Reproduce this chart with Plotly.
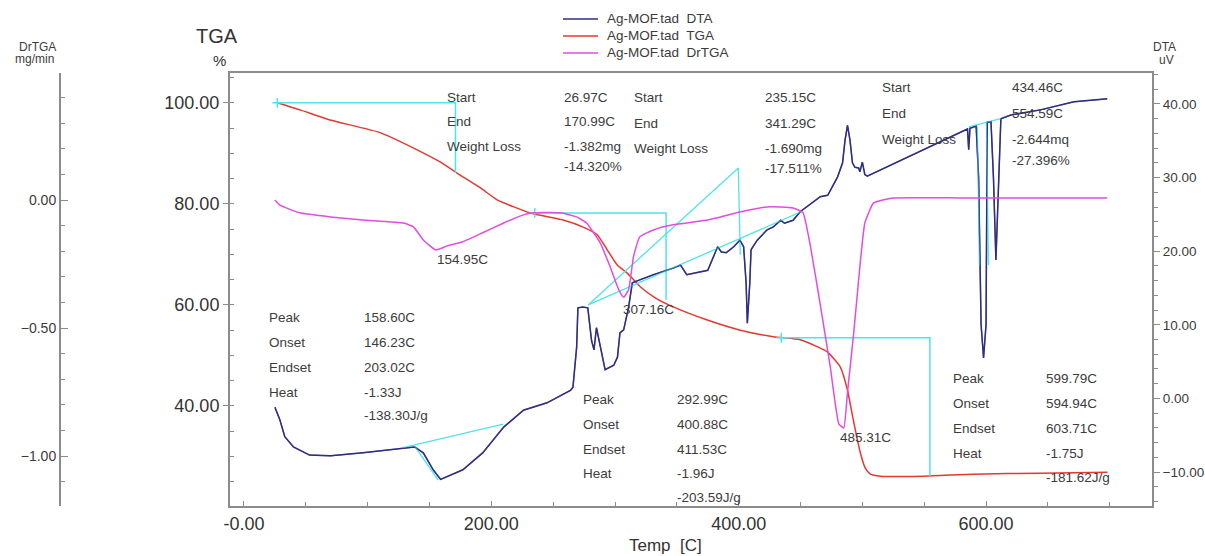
import plotly.graph_objects as go

# ---------------- data ----------------
dta_temp = [25, 29, 33, 40, 53, 70, 96, 129, 138, 145, 153, 159, 177, 193, 210, 226, 245, 264, 266,
            269, 270, 274, 278, 281, 283, 285, 288, 292, 299, 302, 304, 307, 311, 314, 320, 331, 347,
            353, 358, 363, 375, 383, 386, 390, 396, 401, 404, 406, 407, 409, 410, 415, 423, 428, 434,
            437, 444, 450, 466, 472, 480, 484, 486, 488, 490, 492, 494, 497, 498, 500, 502, 504, 540,
            579, 585, 586, 587, 592, 594, 596, 598, 600, 601, 604, 606, 608, 610, 612, 620, 644, 671, 698]
dta_uv = [-1.2, -2.9, -5.2, -6.6, -7.7, -7.8, -7.4, -6.7, -6.6, -7.4, -9.7, -11.0, -9.7, -7.4, -3.9,
          -1.6, -0.6, 1.1, 1.5, 7.0, 12.3, 12.4, 12.3, 7.9, 6.6, 9.6, 7.0, 3.9, 4.5, 5.6, 8.9, 9.3,
          12.4, 15.7, 16.1, 16.8, 17.7, 18.1, 16.8, 17.0, 17.4, 20.6, 19.9, 19.8, 20.6, 21.5, 20.6,
          15.7, 10.2, 15.7, 20.2, 21.5, 22.9, 23.3, 24.2, 23.8, 24.2, 25.4, 27.4, 27.6, 30.1, 32.0,
          35.1, 37.1, 35.1, 32.0, 31.4, 31.3, 30.8, 32.1, 30.4, 30.2, 33.0, 36.1, 36.6, 33.8, 36.7,
          37.0, 30.0, 10.0, 5.5, 10.0, 37.5, 37.6, 30.0, 18.8, 30.0, 38.0, 38.5, 39.2, 40.3, 40.7]

tga_temp = [26.7, 45.3, 69.6, 110, 140, 158.6, 172.3, 191, 204.7, 231.4, 258, 274.3, 285.6, 293.7,
            301.8, 309.9, 320.4, 332.5, 347.1, 374.6, 401.3, 428, 449.8, 462, 471.7, 482.2, 487.9,
            492.7, 498.4, 502.4, 506.5, 514.6, 549.4, 589.8, 644, 698.2]
tga_pct = [100.0, 98.6, 96.6, 94.1, 90.7, 88.3, 86.1, 83.2, 80.8, 78.2, 76.8, 75.4, 73.9, 70.9,
           67.9, 66.3, 63.6, 61.4, 59.6, 57.0, 55.0, 53.7, 53.1, 51.9, 50.7, 47.7, 43.2, 37.2,
           30.7, 27.7, 26.5, 26.1, 26.1, 26.5, 26.7, 26.9]

drtga_temp = [25, 29, 45, 70, 96, 129, 137, 145, 155, 164, 177, 193, 210, 226, 234, 256, 269, 277,
              288, 296, 303, 307, 311, 315, 320, 331, 347, 375, 401, 423, 444, 452, 458, 466, 474,
              481, 485, 488, 493, 498, 502, 509, 525, 579, 640, 698]
drtga_val = [0.0, -0.02, -0.05, -0.066, -0.078, -0.09, -0.105, -0.156, -0.195, -0.18, -0.163,
             -0.128, -0.09, -0.058, -0.05, -0.05, -0.066, -0.09, -0.167, -0.26, -0.35, -0.38,
             -0.35, -0.22, -0.144, -0.117, -0.097, -0.078, -0.047, -0.027, -0.031, -0.05, -0.18,
             -0.41, -0.65, -0.875, -0.89, -0.75, -0.52, -0.26, -0.09, -0.012, 0.008, 0.008, 0.008, 0.008]

# TGA step analysis (weight-loss boxes)
step_start = [26.97, 235.15, 434.46]
step_end = [170.99, 341.29, 554.59]
step_top = [100.0, 78.2, 53.5]
step_bottom = [86.1, 61.0, 26.1]

# DTA peak-analysis construction lines (temp, uV pairs)
dta_base1_t = [128.6, 209.5]
dta_base1_v = [-6.7, -3.5]
dta_tan1_t = [138, 157]
dta_tan1_v = [-6.5, -11.1]
dta_saw_t = [278.3, 399.7, 401.3]
dta_saw_v = [12.7, 31.3, 19.5]
dta_base2_t = [278.3, 449.8]
dta_base2_v = [12.7, 25.3]
dta_base3_t = [586, 612]
dta_base3_v = [36.9, 38.0]
dta_tan3a_t = [593, 594.7]
dta_tan3a_v = [36.9, 18.1]
dta_tan3b_t = [600.3, 602]
dta_tan3b_v = [37.4, 18.1]

x_ticks = [0, 200, 400, 600]
x_ticktext = ["-0.00", "200.00", "400.00", "600.00"]
legend_names = ["Ag-MOF.tad  DTA", "Ag-MOF.tad  TGA", "Ag-MOF.tad  DrTGA"]

# ---------------- styling ----------------
W, H = 1205, 556
L_PX, R_PX, T_PX, B_PX = 230, 1152, 73, 506
DTA_C = "#2f2f80"
TGA_C = "#e23a30"
DRT_C = "#e04de0"
CYAN = "#4fe3ea"
FRAME = "#8c8c8c"
TXT = "#3c3c3c"
FONT = "Liberation Sans, Arial, sans-serif"


def pxx(x):
    return x / W


def pxy(y):
    return (B_PX - y) / (B_PX - T_PX)


fig = go.Figure()

fig.add_trace(go.Scatter(x=dta_temp, y=dta_uv, mode="lines", name=legend_names[0],
                         line=dict(color=DTA_C, width=1.5), yaxis="y2"))
fig.add_trace(go.Scatter(x=tga_temp, y=tga_pct, mode="lines", name=legend_names[1],
                         line=dict(color=TGA_C, width=1.5, shape="spline", smoothing=0.5), yaxis="y"))
fig.add_trace(go.Scatter(x=drtga_temp, y=drtga_val, mode="lines", name=legend_names[2],
                         line=dict(color=DRT_C, width=1.5, shape="spline", smoothing=0.4), yaxis="y3"))

# TGA step boxes
for s, e, t, b in zip(step_start, step_end, step_top, step_bottom):
    fig.add_trace(go.Scatter(x=[s, e, e], y=[t, t, b], mode="lines", showlegend=False,
                             line=dict(color=CYAN, width=1.5), yaxis="y", hoverinfo="skip"))
fig.add_trace(go.Scatter(x=step_start, y=step_top, mode="markers", showlegend=False,
                         marker=dict(symbol="cross-thin", size=7, line=dict(color=CYAN, width=1.5)),
                         yaxis="y", hoverinfo="skip"))

# DTA construction lines
for tx, vy in [(dta_base1_t, dta_base1_v), (dta_tan1_t, dta_tan1_v), (dta_saw_t, dta_saw_v),
               (dta_base2_t, dta_base2_v), (dta_base3_t, dta_base3_v),
               (dta_tan3a_t, dta_tan3a_v), (dta_tan3b_t, dta_tan3b_v)]:
    fig.add_trace(go.Scatter(x=tx, y=vy, mode="lines", showlegend=False,
                             line=dict(color=CYAN, width=1.3), yaxis="y2", hoverinfo="skip"))

# re-draw DTA on top of cyan lines
fig.add_trace(go.Scatter(x=dta_temp, y=dta_uv, mode="lines", showlegend=False,
                         line=dict(color=DTA_C, width=1.3), yaxis="y2", hoverinfo="skip", opacity=0.6))

# ---------------- annotations ----------------
ann = []
shapes = []


def txt(s, x, y, size=13.5, anchor="left", color=TXT):
    ann.append(dict(text=s, x=pxx(x), y=pxy(y), xref="paper", yref="paper", showarrow=False,
                    xanchor=anchor, yanchor="middle", font=dict(family=FONT, size=size, color=color)))


# manual legend
for name, col, ly in zip(legend_names, [DTA_C, TGA_C, DRT_C], [19, 36, 53]):
    shapes.append(dict(type="line", xref="paper", yref="paper", x0=pxx(563), x1=pxx(598),
                       y0=pxy(ly), y1=pxy(ly), line=dict(color=col, width=1.5)))
    txt(name, 605, ly, size=13.5)

# step blocks
for lx, vx, ys, labels, vals in [
    (445, 562, [97, 121, 146, 166], ["Start", "End", "Weight Loss"], ["26.97C", "170.99C", "-1.382mg", "-14.320%"]),
    (632, 763, [98, 123, 148, 168], ["Start", "End", "Weight Loss"], ["235.15C", "341.29C", "-1.690mg", "-17.511%"]),
    (880, 1010, [88, 113, 139, 160], ["Start", "End", "Weight Loss"], ["434.46C", "554.59C", "-2.644mq", "-27.396%"]),
]:
    for i, lab in enumerate(labels):
        txt(lab, lx, ys[i])
    for i, v in enumerate(vals):
        txt(v, vx, ys[i])

for lx, vx, ys, vals in [
    (267, 362, [317, 342, 367, 392, 415], ["158.60C", "146.23C", "203.02C", "-1.33J", "-138.30J/g"]),
    (581, 675, [399, 424, 449, 473, 497], ["292.99C", "400.88C", "411.53C", "-1.96J", "-203.59J/g"]),
    (951, 1044, [378, 403, 428, 453, 477], ["599.79C", "594.94C", "603.71C", "-1.75J", "-181.62J/g"]),
]:
    for i, lab in enumerate(["Peak", "Onset", "Endset", "Heat"]):
        txt(lab, lx, ys[i])
    for i, v in enumerate(vals):
        txt(v, vx, ys[i])

txt("154.95C", 435, 259)
txt("307.16C", 621, 309)
txt("485.31C", 838, 437)

# axis titles
txt("TGA", 217, 36, size=20, anchor="center", color="#333333")
txt("%", 219, 60, size=15, anchor="center", color="#333333")
txt("DrTGA", 37, 47, size=12, anchor="center")
txt("mg/min", 34, 59, size=12, anchor="center")
txt("DTA", 1164, 47, size=12, anchor="center")
txt("uV", 1166, 60, size=12, anchor="center")
txt("Temp  [C]", 665, 545, size=17, anchor="center", color="#333333")

axis_common = dict(showline=True, linecolor=FRAME, linewidth=2, showgrid=False, zeroline=False,
                   tickcolor=FRAME, tickformat=".2f", automargin=False)

x0 = -11.3
x1 = 734.2

fig.update_layout(
    width=W, height=H,
    margin=dict(l=0, r=0, t=T_PX, b=H - B_PX, pad=0, autoexpand=False),
    paper_bgcolor="white", plot_bgcolor="white",
    font=dict(family=FONT, color=TXT),
    showlegend=False,
    annotations=ann,
    shapes=shapes,
    xaxis=dict(domain=[L_PX / W, R_PX / W], range=[x0, x1], mirror=True,
               tickvals=x_ticks, ticktext=x_ticktext, ticks="inside", ticklen=5,
               tickfont=dict(size=18, color="#333333"),
               minor=dict(tick0=0, dtick=50, ticks="inside", ticklen=4, tickcolor=FRAME),
               **{k: v for k, v in axis_common.items() if k != "tickformat"}),
    yaxis=dict(range=[20.2, 105.9], tickvals=[40, 60, 80, 100], ticks="outside", ticklen=5,
               mirror=True, tickfont=dict(size=18, color="#333333"),
               minor=dict(tick0=0, dtick=5, ticks="inside", ticklen=4, tickcolor=FRAME),
               **axis_common),
    yaxis2=dict(overlaying="y", side="right", anchor="x", range=[-14.62, 44.21],
                tick0=0, dtick=10, ticks="outside", ticklen=6, ticklabelstandoff=0,
                tickfont=dict(size=13.5, color=TXT),
                minor=dict(tick0=0, dtick=2, ticks="outside", ticklen=4, tickcolor=FRAME),
                **axis_common),
    yaxis3=dict(overlaying="y", side="left", anchor="free", position=60 / W,
                range=[-1.195, 0.496], tickvals=[0, -0.5, -1.0], ticks="inside", ticklen=7,
                tickfont=dict(size=14, color=TXT),
                minor=dict(tick0=0, dtick=0.1, ticks="inside", ticklen=4, tickcolor=FRAME),
                **axis_common),
)

fig.write_html("out.html", config={"displayModeBar": False},
               post_script="document.body.style.margin='0px';")
